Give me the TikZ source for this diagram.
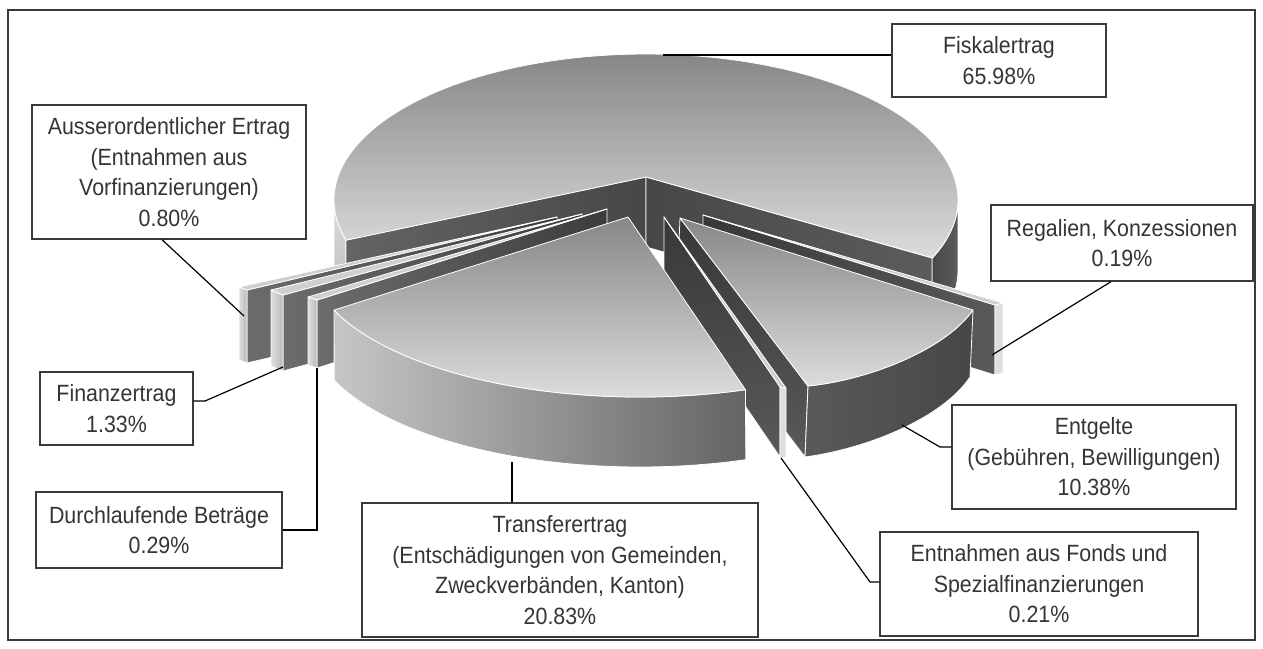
\documentclass[tikz,border=0pt]{standalone}
\usepackage{fontspec}
\setmainfont{Liberation Sans}[FakeStretch=0.91]
\definecolor{txt}{HTML}{353535}
\definecolor{boxc}{HTML}{3A3A3A}
\definecolor{topA}{HTML}{878787}
\definecolor{topB}{HTML}{DCDCDC}
\definecolor{cutA}{HTML}{646464}
\definecolor{cutB}{HTML}{474747}
\definecolor{cutC}{HTML}{5C5C5C}
\definecolor{dkA}{HTML}{6C6C6C}
\definecolor{dkB}{HTML}{3C3C3C}
\definecolor{dkT}{HTML}{383838}
\definecolor{dkM}{HTML}{595959}
\definecolor{rimW}{HTML}{DEDEDE}
\definecolor{rimG}{HTML}{B8B8B8}
\definecolor{sliver}{HTML}{CFCFCF}
\definecolor{rimTL}{HTML}{C6C6C6}
\definecolor{rimTR}{HTML}{646464}
\tikzset{
  lbl/.style={draw=boxc, line width=1.3pt, fill=white, text=txt, align=center,
    font=\fontsize{23.5}{30.5}\selectfont, inner sep=0pt},
  lead/.style={draw=black, line width=1.2pt},
  face/.style={draw=white, line width=0.8pt, line join=round},
}
\begin{document}
\begin{tikzpicture}[x=1pt,y=-1pt]
\useasboundingbox (0,0) rectangle (1263,648);
\draw[draw=boxc, line width=1.3pt] (8,10) rectangle (1255,640);

% ---- Fiskalertrag (big slice) ----
\shadedraw[face, top color=rimW, bottom color=rimG]
  plot[domain=0:1,samples=20] ({646+312*cos(164+16*\x)},{200+146*sin(164+16*\x)})
  -- plot[domain=0:1,samples=20] ({646+312*cos(180-16*\x)},{270+146*sin(180-16*\x)}) -- cycle;
\shadedraw[face, left color=cutB, right color=cutC]
  plot[domain=0:1,samples=20] ({646+312*cos(23.6*\x)},{200+146*sin(23.6*\x)})
  -- plot[domain=0:1,samples=20] ({646+312*cos(23.6-23.6*\x)},{270+146*sin(23.6-23.6*\x)}) -- cycle;
\shadedraw[face, left color=cutA, right color=cutB] (646,177) -- (346,240) -- (346,310) -- (646,247) -- cycle;
\shadedraw[face, left color=cutB, right color=cutC] (646,177) -- (932,258) -- (932,328) -- (646,247) -- cycle;
\shadedraw[face, top color=topA, bottom color=topB] (646,177)
  -- plot[domain=0:1,samples=120] ({646+312*cos(164+219.6*\x)},{200+146*sin(164+219.6*\x)}) -- cycle;

% ---- Regalien, Konzessionen ----
\shadedraw[face, left color=dkT, right color=dkM] (703,215) -- (995,305) -- (995,375) -- (703,285) -- cycle;
\filldraw[face, fill=rimW] (995,305) -- (1003,303) -- (1003,373) -- (995,375) -- cycle;
\filldraw[face, fill=sliver] (703,215) -- (1003,303) -- (995,305) -- cycle;

% ---- Entgelte ----
\shadedraw[face, top color=dkT, bottom color=dkM] (680,218) -- (808,386) -- (805,457) -- (677,289) -- cycle;
\shadedraw[face, left color=dkM, right color=cutB]
  (808,386) .. controls (868,380) and (945,350) .. (973,310) -- (970,377)
  .. controls (942,419) and (865,449) .. (805,457) -- cycle;
\shadedraw[face, top color=topA, bottom color=topB]
  (680,218) -- (808,386) .. controls (868,380) and (945,350) .. (973,310) -- cycle;

% ---- Entnahmen aus Fonds ----
\shadedraw[face, top color=dkT, bottom color=dkM] (664,217) -- (780,387) -- (780,457) -- (664,287) -- cycle;
\filldraw[face, fill=rimW] (780,387) -- (786,388) -- (786,458) -- (780,457) -- cycle;
\filldraw[face, fill=sliver] (664,217) -- (786,388) -- (780,387) -- cycle;

% ---- Ausserordentlicher Ertrag ----
\shadedraw[face, left color=dkA, right color=dkB] (557,217) -- (247,290) -- (247,363) -- (557,290) -- cycle;
\shadedraw[face, left color=rimW, right color=rimG] (239,287) -- (247,290) -- (247,363) -- (239,360) -- cycle;
\filldraw[face, fill=sliver] (557,217) -- (239,287) -- (247,290) -- cycle;

% ---- Finanzertrag ----
\shadedraw[face, left color=dkA, right color=dkB] (582,214) -- (283,295) -- (283,371) -- (582,290) -- cycle;
\shadedraw[face, left color=rimW, right color=rimG] (271,290) -- (283,295) -- (283,371) -- (271,366) -- cycle;
\filldraw[face, fill=sliver] (582,214) -- (271,290) -- (283,295) -- cycle;

% ---- Durchlaufende Betraege ----
\shadedraw[face, left color=dkA, right color=dkB] (607,209) -- (317,300) -- (317,368) -- (607,277) -- cycle;
\shadedraw[face, left color=rimW, right color=rimG] (308,297) -- (317,300) -- (317,368) -- (308,365) -- cycle;
\filldraw[face, fill=sliver] (607,209) -- (308,297) -- (317,300) -- cycle;

% ---- Transferertrag ----
\shadedraw[face, left color=rimTL, right color=rimTR]
  plot[domain=0:1,samples=60] ({640+330*cos(158-86.7*\x)},{258+139*sin(158-86.7*\x)})
  -- plot[domain=0:1,samples=60] ({640+330*cos(71.3+86.7*\x)},{328+139*sin(71.3+86.7*\x)}) -- cycle;
\shadedraw[face, top color=topA, bottom color=topB] (628,217)
  -- plot[domain=0:1,samples=60] ({640+330*cos(158-86.7*\x)},{258+139*sin(158-86.7*\x)}) -- cycle;

% ---- labels ----
\node[lbl, minimum width=214pt, minimum height=73pt] (fisk) at (999,60.5) {Fiskalertrag\\65.98\%};
\node[lbl, minimum width=274pt, minimum height=134pt] (auss) at (169,172) {Ausserordentlicher Ertrag\\(Entnahmen aus\\Vorfinanzierungen)\\0.80\%};
\node[lbl, minimum width=262pt, minimum height=76pt] (rega) at (1122,243) {Regalien, Konzessionen\\0.19\%};
\node[lbl, minimum width=284pt, minimum height=104pt] (entg) at (1094,457) {Entgelte\\(Gebühren, Bewilligungen)\\10.38\%};
\node[lbl, minimum width=318pt, minimum height=104pt] (entn) at (1039,584) {Entnahmen aus Fonds und\\Spezialfinanzierungen\\0.21\%};
\node[lbl, minimum width=396pt, minimum height=134pt] (tran) at (560,570) {Transferertrag\\(Entschädigungen von Gemeinden,\\Zweckverbänden, Kanton)\\20.83\%};
\node[lbl, minimum width=153pt, minimum height=73pt] (fina) at (116.5,408.5) {Finanzertrag\\1.33\%};
\node[lbl, minimum width=246pt, minimum height=76pt] (durc) at (159,530) {Durchlaufende Beträge\\0.29\%};

% ---- leaders ----
\coordinate (pFisk) at (663,55);
\coordinate (pAuss) at (244,316);
\coordinate (pRega) at (992,355);
\coordinate (pEntg) at (902,425);
\coordinate (pEntn) at (781,458);
\coordinate (pTran) at (512,462);
\coordinate (pFina) at (283,367);
\coordinate (pDurc) at (317,368);
\draw[lead] (pFisk) -- (fisk.west |- pFisk);
\draw[lead] (pAuss) -- ([xshift=-7pt]auss.south);
\draw[lead] (pRega) -- ([xshift=-11pt]rega.south);
\draw[lead] (pEntg) -- (940,447) -- (entg.west |- 940,447);
\draw[lead] (pEntn) -- (870,582) -- (entn.west |- 870,582);
\draw[lead] (pTran) -- (tran.north -| pTran);
\draw[lead] (pFina) -- (205,401) -- (fina.east |- 205,401);
\draw[lead] (pDurc) -- (durc.east -| pDurc) -- (durc.east);
\end{tikzpicture}
\end{document}
